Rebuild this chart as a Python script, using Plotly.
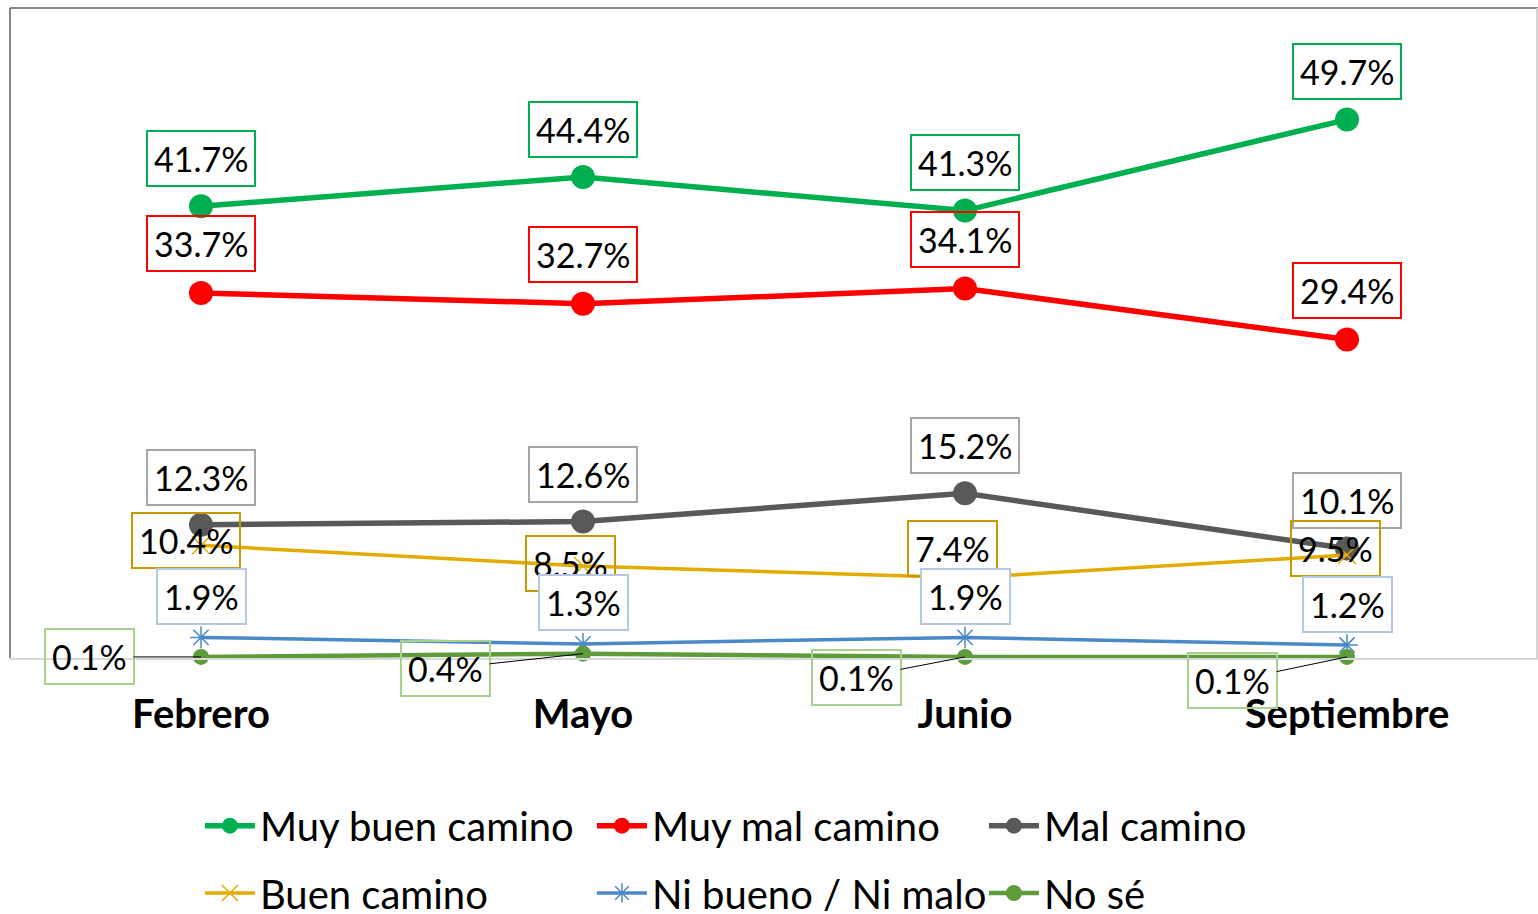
import plotly.graph_objects as go

months = ["Febrero", "Mayo", "Junio", "Septiembre"]

series_names = ["Muy buen camino", "Muy mal camino", "Mal camino",
                "Buen camino", "Ni bueno / Ni malo", "No sé"]
muy_buen = [41.7, 44.4, 41.3, 49.7]
muy_mal = [33.7, 32.7, 34.1, 29.4]
mal = [12.3, 12.6, 15.2, 10.1]
buen = [10.4, 8.5, 7.4, 9.5]
ni_ni = [1.9, 1.3, 1.9, 1.2]
no_se = [0.1, 0.4, 0.1, 0.1]
values = [muy_buen, muy_mal, mal, buen, ni_ni, no_se]

# styles
line_colors = ["#00B050", "#FF0000", "#595959", "#E3AB00", "#4A89C8", "#5E9B3A"]
box_colors = ["#00B050", "#FF0000", "#A6A6A6", "#C59A00", "#B4C7E7", "#A9D18E"]
line_widths = [5.5, 5.5, 5.5, 3.5, 3.5, 4.5]
symbols = ["circle", "circle", "circle", "x-thin", "asterisk", "circle"]
msizes = [24, 24, 24, 18, 18, 16]
legend_ids = ["legend", "legend", "legend", "legend2", "legend2", "legend2"]

# label offsets in pixels (dx, dy screen-down positive)
label_offsets = [
    [(0, -48)] * 4,
    [(0, -49)] * 4,
    [(0, -47), (0, -47), (0, -48), (0, -48)],
    [(-15, -5), (-13, -2), (-13, -29), (-12, -7)],
    [(0, -41)] * 4,
    [(-112, 0), (-138, 15), (-109, 21), (-115, 24)],
]

FONT = "Lato"

fig = go.Figure()
for i, name in enumerate(series_names):
    sym = symbols[i]
    thin = sym in ("x-thin", "asterisk")
    marker = dict(symbol=sym, size=msizes[i], color=line_colors[i])
    if thin:
        marker["line"] = dict(width=1.5, color=line_colors[i])
    fig.add_trace(go.Scatter(
        x=months, y=values[i], name=name, mode="lines+markers",
        line=dict(color=line_colors[i], width=line_widths[i]),
        marker=marker, cliponaxis=False, legend=legend_ids[i],
    ))

annotations = []
for i, name in enumerate(series_names):
    for j, m in enumerate(months):
        dx, dy = label_offsets[i][j]
        common = dict(
            x=m, y=values[i][j], xref="x", yref="y",
            text=f"{values[i][j]:.1f}%",
            font=dict(family=FONT, size=34, color="#000000"),
            bordercolor=box_colors[i], borderwidth=2, borderpad=6,
            bgcolor="rgba(255,255,255,1)" if i == 4 else "rgba(0,0,0,0)",
        )
        if i == 5:
            annotations.append(dict(
                **common, showarrow=True, ax=dx, ay=dy, arrowhead=0,
                arrowwidth=1, arrowcolor="#000000", standoff=0,
            ))
        else:
            annotations.append(dict(
                **common, showarrow=False, xshift=dx, yshift=-dy,
                xanchor="center", yanchor="middle",
            ))

shapes = [
    dict(type="line", xref="paper", yref="paper", x0=0, x1=0, y0=0, y1=1,
         line=dict(color="#878787", width=2)),
    dict(type="line", xref="paper", yref="paper", x0=0, x1=1, y0=1, y1=1,
         line=dict(color="#878787", width=2)),
    dict(type="line", xref="paper", yref="paper", x0=0.9995, x1=0.9995, y0=0, y1=1,
         line=dict(color="#D0D0D0", width=2)),
]

legend_common = dict(
    orientation="h", xanchor="left", yanchor="middle",
    font=dict(family=FONT, size=40, color="#000000"),
    entrywidth=327, itemwidth=50, bgcolor="rgba(0,0,0,0)",
)

fig.update_layout(
    width=1538, height=914,
    margin=dict(l=10, r=0, t=8, b=256, autoexpand=False),
    paper_bgcolor="white", plot_bgcolor="white",
    showlegend=True,
    legend=dict(**legend_common, x=0.1243, y=-0.258),
    legend2=dict(**legend_common, x=0.1243, y=-0.3615),
    xaxis=dict(
        type="category", range=[-0.5, 3.5],
        showgrid=False, zeroline=False, showline=True,
        linecolor="#D9D9D9", linewidth=2, ticks="",
        tickfont=dict(family=FONT, size=40, color="#000000", weight="bold"),
        ticklabelstandoff=20,
    ),
    yaxis=dict(
        range=[0, 60], showgrid=False, zeroline=False, showline=False,
        showticklabels=False, ticks="",
    ),
    annotations=annotations,
    shapes=shapes,
)

fig.write_html("out.html", config={"displayModeBar": False},
               post_script="document.body.style.margin='0';")
